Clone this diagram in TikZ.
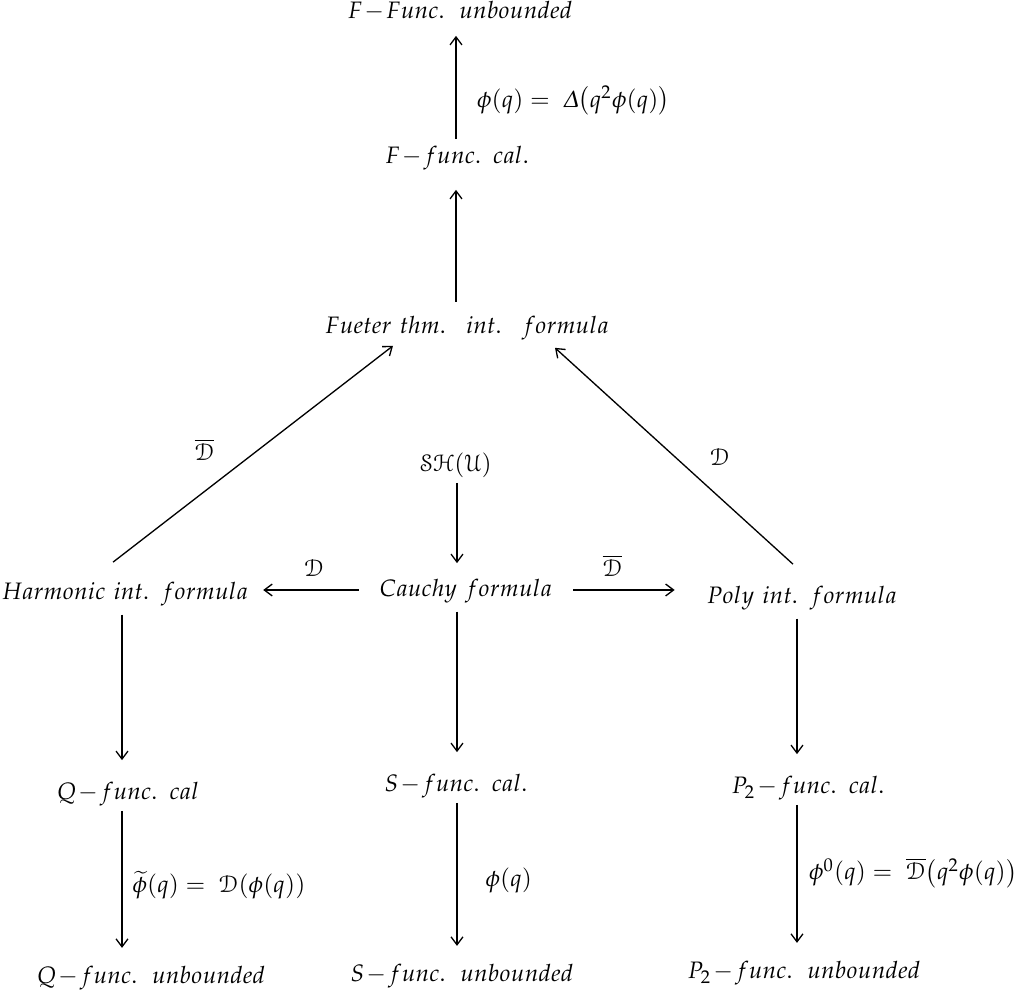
\documentclass[tikz,border=0pt]{standalone}
\usepackage[slantedGreek]{mathpazo}
\usepackage[mathcal]{eucal}
\usetikzlibrary{arrows.meta}
\newcommand{\dsh}{\mkern-2mu-\mkern-2mu}
\begin{document}
\begin{tikzpicture}[x=0.0133cm, y=-0.0133cm,
  main/.style = {inner sep=2pt, text height=7pt, text depth=2pt, font=\fontsize{9}{11}\selectfont},
  lbl/.style = {inner sep=2pt, font=\fontsize{9}{11}\selectfont},
  >={Straight Barb[length=3pt,width=4.5pt]}, line width=0.5pt]
\useasboundingbox (0,0) rectangle (1024,998);
\coordinate (tcol) at (456,0);
\coordinate (lcol) at (122,0);
\coordinate (mcol) at (457,0);
\coordinate (rcol) at (797,0);
\node[main] (fu) at (460,12) {$F \dsh Func.\ \;unbounded$};
\node[main] (fc) at (457,157) {$F \dsh func.\ \,cal.$};
\node[main] (ft) at (467,327) {$Fueter\ thm.\ \ \,int.\ \ \,formula$};
\node[main] (sh) at (456,465) {$\mathcal{S}\mathcal{H}(\mathcal{U})$};
\node[main] (ca) at (466,590) {$Cauchy\ formula$};
\node[main] (ha) at (125,593) {$Harmonic\ int.\ \,formula$};
\node[main] (po) at (802,597) {$Poly\ int.\ \,formula$};
\node[main] (qc) at (128,793) {$Q \dsh func.\ \,cal$};
\node[main] (sc) at (456,785) {$S \dsh func.\ \,cal.$};
\node[main] (pc) at (808,787) {$P_2 \dsh func.\ \,cal.$};
\node[main] (qu) at (151,977) {$Q \dsh func.\ \;unbounded$};
\node[main] (su) at (462,975) {$S \dsh func.\ \;unbounded$};
\node[main] (pu) at (804,972) {$P_2 \dsh func.\ \;unbounded$};
% top column
\draw[->, shorten >=0.08cm] (fc.north -| tcol) -- node[lbl, pos=0.35, right=0.2cm] {$\phi(q) = \; \Delta\big(q^2\phi(q)\big)$} (fu.south -| tcol);
\draw[->, shorten <=0.1cm, shorten >=0.2cm] (ft.north -| tcol) -- (fc.south -| tcol);
% diagonals
\draw[->] ([shift={(-12,-13)}]ha.north) -- node[lbl, pos=0.41, above left=0.1cm] {$\overline{\mathcal{D}}$} ([shift={(-74,1)}]ft.south);
\draw[->] ([shift={(-9,-15)}]po.north) -- node[lbl, pos=0.40, above right=0.08cm] {$\mathcal{D}$} ([shift={(88,3)}]ft.south);
% middle row
\draw[->, shorten >=0.12cm] (sh.south -| mcol) -- (ca.north -| mcol);
\draw[->, shorten <=0.2cm, shorten >=0.12cm] (ca) -- node[lbl, above=0.1cm] {$\mathcal{D}$} (ca -| ha.east);
\draw[->, shorten <=0.2cm, shorten >=0.35cm] (ca) -- node[lbl, pos=0.38, above=0.1cm] {$\overline{\mathcal{D}}$} (ca -| po.west);
% lower columns
\draw[->, shorten <=0.05cm, shorten >=0.2cm] (ha.south -| lcol) -- (qc.north -| lcol);
\draw[->, shorten <=0.05cm, shorten >=0.2cm] (ca.south -| mcol) -- (sc.north -| mcol);
\draw[->, shorten <=0.05cm, shorten >=0.2cm] (po.south -| rcol) -- (pc.north -| rcol);
\draw[->, shorten >=0.15cm] (qc.south -| lcol) -- node[lbl, pos=0.5, right=0.06cm] {$\widetilde{\phi}(q) = \; \mathcal{D}(\phi(q))$} (qu.north -| lcol);
\draw[->, shorten >=0.15cm] (sc.south -| mcol) -- node[lbl, pos=0.5, right=0.3cm] {$\phi(q)$} (su.north -| mcol);
\draw[->, shorten >=0.15cm] (pc.south -| rcol) -- node[lbl, pos=0.46, right=0.08cm] {$\phi^0(q) = \; \overline{\mathcal{D}}\big(q^2\phi(q)\big)$} (pu.north -| rcol);
\end{tikzpicture}
\end{document}
